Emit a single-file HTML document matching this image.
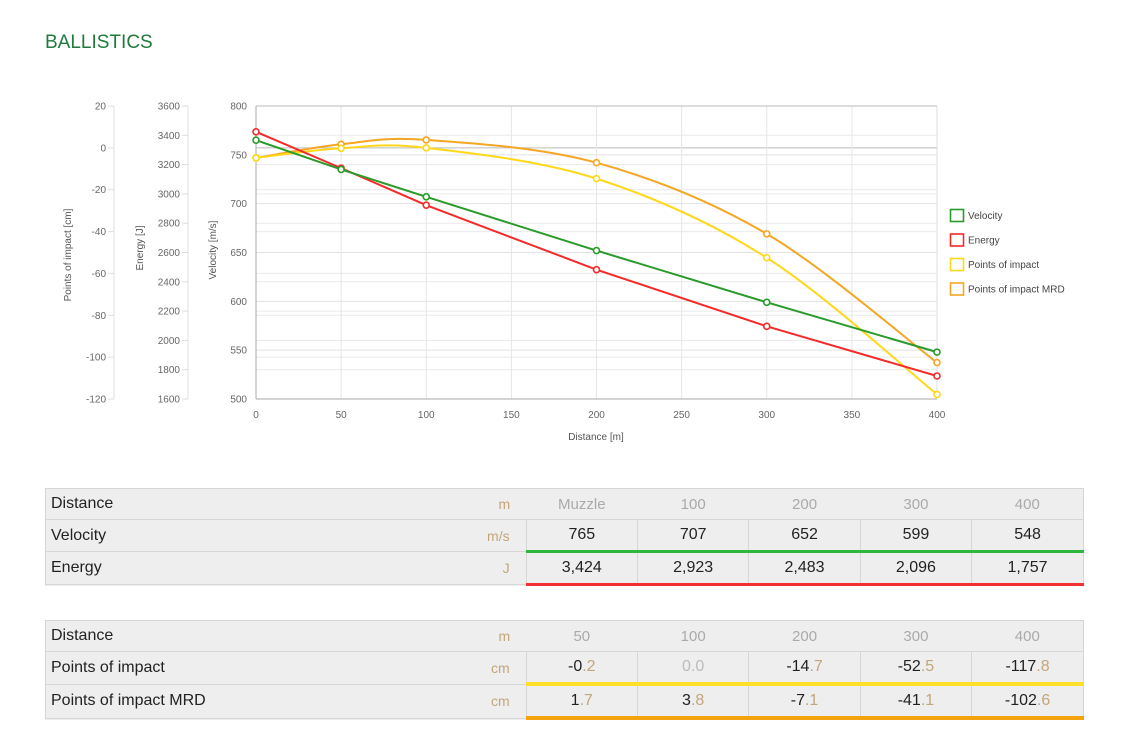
<!DOCTYPE html>
<html><head><meta charset="utf-8">
<style>
body{margin:0;width:1122px;height:736px;background:#fff;font-family:"Liberation Sans",sans-serif;position:relative;overflow:hidden}
h1{position:absolute;left:45px;top:32px;margin:0;font-weight:normal;font-size:19px;color:#1f7a3c;letter-spacing:0}
svg{position:absolute;left:0;top:0}
table{position:absolute;left:45px;width:1039px;border-collapse:collapse;background:#eee;font-size:16px;color:#222}
td{height:30px;border:1px solid #d6d6d6;padding:0;text-align:center}
td.lab{text-align:left;padding-left:5px;border-right:none;width:380px}
td.unit{text-align:right;padding-right:16px;color:#c4a57a;font-size:14px;border-left:none;width:77px}
td.h{color:#aaa;font-size:15px;width:111px}
tr.hd td{border-left:none;border-right:none}
tr.hd td.lab{border-left:1px solid #d6d6d6}
tr.hd td:last-child{border-right:1px solid #d6d6d6}
td.v{position:relative}
td.v span{color:#c4a57a}
td.g{border-bottom:3px solid #2db83d}
td.r{border-bottom:3px solid #f23232}
td.y{border-bottom:4px solid #fde02a}
td.o{border-bottom:4px solid #f5a20f}
</style></head><body>
<h1>BALLISTICS</h1>
<svg id="chart" width="1122" height="460"></svg>

<table style="top:488px">
<tr class="hd"><td class="lab">Distance</td><td class="unit">m</td><td class="h">Muzzle</td><td class="h">100</td><td class="h">200</td><td class="h">300</td><td class="h">400</td></tr>
<tr><td class="lab">Velocity</td><td class="unit">m/s</td><td class="v g">765</td><td class="v g">707</td><td class="v g">652</td><td class="v g">599</td><td class="v g">548</td></tr>
<tr><td class="lab">Energy</td><td class="unit">J</td><td class="v r">3,424</td><td class="v r">2,923</td><td class="v r">2,483</td><td class="v r">2,096</td><td class="v r">1,757</td></tr>
</table>

<table style="top:620px">
<tr class="hd"><td class="lab">Distance</td><td class="unit">m</td><td class="h">50</td><td class="h">100</td><td class="h">200</td><td class="h">300</td><td class="h">400</td></tr>
<tr><td class="lab">Points of impact</td><td class="unit">cm</td><td class="v y">-0<span>.2</span></td><td class="v y" style="color:#bbb">0.0</td><td class="v y">-14<span>.7</span></td><td class="v y">-52<span>.5</span></td><td class="v y">-117<span>.8</span></td></tr>
<tr><td class="lab">Points of impact MRD</td><td class="unit">cm</td><td class="v o">1<span>.7</span></td><td class="v o">3<span>.8</span></td><td class="v o">-7<span>.1</span></td><td class="v o">-41<span>.1</span></td><td class="v o">-102<span>.6</span></td></tr>
</table>

<script>
const distances=[0,50,100,200,300,400];
const velocity=[765,735,707,652,599,548];
const energy=[3424,3176,2923,2483,2096,1757];
const poi=[-4.8,-0.2,0,-14.7,-52.5,-117.8];
const poiMrd=[-4.8,1.7,3.8,-7.1,-41.1,-102.6];
const xTicks=[0,50,100,150,200,250,300,350,400];
const vTicks=[500,550,600,650,700,750,800];
const eTicks=[1600,1800,2000,2200,2400,2600,2800,3000,3200,3400,3600];
const pTicks=[-120,-100,-80,-60,-40,-20,0,20];

const svg=document.getElementById('chart');
const NS='http://www.w3.org/2000/svg';
const X0=256,X1=937,YT=106,YB=399;
const xS=d=>X0+(d-0)/(400-0)*(X1-X0);
const vS=v=>YB-(v-500)/(800-500)*(YB-YT);
const eS=v=>YB-(v-1600)/(3600-1600)*(YB-YT);
const pS=v=>YB-(v+120)/(20+120)*(YB-YT);
function el(t,a,p){const e=document.createElementNS(NS,t);for(const k in a)e.setAttribute(k,a[k]);(p||svg).appendChild(e);return e;}
function txt(x,y,s,a){const e=el('text',Object.assign({x:x,y:y,'font-size':10,fill:'#666','font-family':'Liberation Sans, sans-serif'},a||{}));e.textContent=s;return e;}

pTicks.forEach(t=>{const l=el('line',{x1:X0,x2:X1,y1:pS(t),y2:pS(t),stroke:t===0?'#bbb':'#eaeaea'});});
eTicks.forEach(t=>{const l=el('line',{x1:X0,x2:X1,y1:eS(t),y2:eS(t),stroke:'#eaeaea'});});
vTicks.forEach(t=>{const l=el('line',{x1:X0,x2:X1,y1:vS(t),y2:vS(t),stroke:'#e2e2e2'});});
xTicks.forEach(t=>{const l=el('line',{x1:xS(t),x2:xS(t),y1:YT,y2:YB,stroke:'#e6e6e6'});
 const tx=txt(xS(t),418,String(t),{'text-anchor':'middle'});});
el('line',{x1:X0,x2:X1,y1:YT,y2:YT,stroke:'#bbb'});
el('line',{x1:X0,x2:X1,y1:YB,y2:YB,stroke:'#aaa'});
el('line',{x1:X0,x2:X0,y1:YT,y2:YB,stroke:'#aaa'});
el('line',{x1:X1,x2:X1,y1:YT,y2:YB,stroke:'#ddd'});
el('line',{x1:114,x2:114,y1:YT,y2:YB,stroke:'#e2e2e2'});
el('line',{x1:188,x2:188,y1:YT,y2:YB,stroke:'#e2e2e2'});
pTicks.forEach(t=>{el('line',{x1:108,x2:114,y1:pS(t),y2:pS(t),stroke:'#ddd'});const a=txt(106,pS(t)+3.5,String(t),{'text-anchor':'end'});});
eTicks.forEach(t=>{el('line',{x1:182,x2:188,y1:eS(t),y2:eS(t),stroke:'#ddd'});const a=txt(180,eS(t)+3.5,String(t),{'text-anchor':'end'});});
vTicks.forEach(t=>{const a=txt(247,vS(t)+3.5,String(t),{'text-anchor':'end'});});
let at=txt(0,0,'Points of impact [cm]',{'text-anchor':'middle',transform:'translate(71,255) rotate(-90)',fill:'#555'});
at=txt(0,0,'Energy [J]',{'text-anchor':'middle',transform:'translate(143,248) rotate(-90)',fill:'#555'});
at=txt(0,0,'Velocity [m/s]',{'text-anchor':'middle',transform:'translate(216,250) rotate(-90)',fill:'#555'});
at=txt(596,440,'Distance [m]',{'text-anchor':'middle',fill:'#555'});

function smooth(pts){let d='M'+pts[0][0]+','+pts[0][1];
 for(let i=0;i<pts.length-1;i++){const p0=pts[i-1]||pts[i],p1=pts[i],p2=pts[i+1],p3=pts[i+2]||p2;const k=1/6;
  d+=' C'+(p1[0]+(p2[0]-p0[0])*k)+','+(p1[1]+(p2[1]-p0[1])*k)+' '+(p2[0]-(p3[0]-p1[0])*k)+','+(p2[1]-(p3[1]-p1[1])*k)+' '+p2[0]+','+p2[1];}
 return d;}
function series(vals,sc,col,name,curve){
 const pts=distances.map((d,i)=>[xS(d),sc(vals[i])]);
 const p=el('path',{d:curve?smooth(pts):'M'+pts.map(q=>q.join(',')).join(' L'),fill:'none',stroke:col,'stroke-width':2});
 
 pts.forEach(q=>{const c=el('circle',{cx:q[0],cy:q[1],r:3,fill:'#fff',stroke:col,'stroke-width':1.6});});
}
series(poiMrd,pS,'#f5a623','poi-mrd',true);
series(poi,pS,'#ffd81a','poi',true);
series(energy,eS,'#f52a2a','energy',false);
series(velocity,vS,'#2a9a2a','velocity',false);

const legNames=['Velocity','Energy','Points of impact','Points of impact MRD'];
const legCols=['#2a9a2a','#f52a2a','#ffd81a','#f5a623'];
legNames.forEach((n,i)=>{const y=209+i*24.5;
 const g=el('g',{});
 el('rect',{x:950.5,y:y+0.5,width:13,height:12,fill:'none',stroke:legCols[i],'stroke-width':1.6},g);
 const t=txt(968,y+10,n,{fill:'#444'});g.appendChild(t);});
</script>
</body></html>
